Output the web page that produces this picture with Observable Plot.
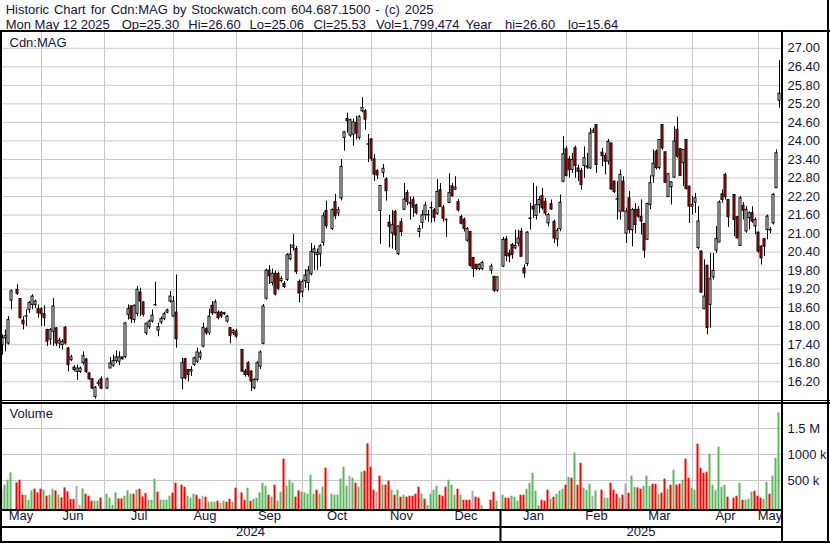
<!DOCTYPE html>
<html><head><meta charset="utf-8">
<script src="https://cdn.jsdelivr.net/npm/d3@7"></script>
<script src="https://cdn.jsdelivr.net/npm/@observablehq/plot@0.6"></script>
<style>
body{margin:0;background:#fff;}
#wrap{position:relative;width:830px;height:543px;overflow:hidden;background:#fff;font-family:"Liberation Sans",Arial,sans-serif;color:#14143c;}
.tk{position:absolute;font-size:13px;white-space:pre;line-height:15px;height:15px;}
.r1{top:1.8px;}
.r2{top:16.6px;}
.ln{position:absolute;background:#000;}
#price,#vol{position:absolute;left:0;}
</style></head>
<body><div id="wrap">
<div class="tk r1" style="left:5.7px;word-spacing:1.3px">Historic Chart for Cdn:MAG by Stockwatch.com 604.687.1500 - (c) 2025</div>
<div class="tk r2" style="left:5.7px">Mon May 12 2025</div>
<div class="tk r2" style="left:121.7px">Op=25.30</div>
<div class="tk r2" style="left:188.3px">Hi=26.60</div>
<div class="tk r2" style="left:249.5px">Lo=25.06</div>
<div class="tk r2" style="left:313.5px">Cl=25.53</div>
<div class="tk r2" style="left:376px">Vol=1,799,474</div>
<div class="tk r2" style="left:465.5px">Year</div>
<div class="tk r2" style="left:505px">hi=26.60</div>
<div class="tk r2" style="left:568px">lo=15.64</div>
<div id="price" style="top:31px"></div>
<div id="vol" style="top:401px"></div>
<div class="ln" style="left:0;top:30px;width:830px;height:2px"></div>
<div class="ln" style="left:0;top:30px;width:2px;height:513px"></div>
<div class="ln" style="left:827px;top:0;width:2px;height:543px"></div>
<div class="ln" style="left:0;top:541px;width:830px;height:2px"></div>
<div class="ln" style="left:781px;top:30px;width:2px;height:513px"></div>
<div class="ln" style="left:0;top:400px;width:830px;height:1px"></div>
<div class="ln" style="left:0;top:402px;width:830px;height:2px"></div>
<div class="ln" style="left:0;top:509px;width:783px;height:2px"></div>
<div class="ln" style="left:0;top:526px;width:783px;height:2px"></div>
</div>
<script>
// ---- data: one slot per weekday from 2024-05-13 to 2025-05-12 (null = market holiday) ----
const open = [
16.75,17.39,17.61,17.44,18.83,null,19.18,18.88,18.18,18.31,
18.53,18.69,18.69,18.55,18.55,18.39,17.88,17.57,17.82,17.93,
17.44,17.39,17.95,17.28,16.90,16.66,16.52,16.52,16.81,16.92,
16.47,16.28,15.71,16.14,16.28,null,15.98,16.63,16.72,16.87,
16.85,16.99,17.00,18.37,18.64,18.20,18.40,19.09,18.77,17.77,
17.97,18.15,18.68,17.86,18.12,18.23,18.44,18.80,18.31,18.44,
null,16.31,16.93,16.58,16.53,16.75,16.85,16.99,17.34,17.90,
17.77,18.66,18.42,18.44,18.44,18.42,18.15,17.94,17.77,17.83,
null,17.23,16.53,16.80,16.53,15.99,16.26,16.69,17.43,18.89,
19.80,19.40,19.70,19.69,19.46,19.37,19.50,20.17,20.54,20.50,
19.44,19.10,19.46,19.40,19.68,20.38,20.30,20.32,20.70,21.73,
null,21.15,22.02,21.65,22.14,24.10,24.71,24.17,24.20,24.58,
24.10,24.96,24.96,23.88,24.05,23.40,23.02,21.73,22.97,22.75,
21.35,21.00,21.70,20.34,21.37,21.77,22.31,21.97,22.08,21.91,
21.05,21.34,21.59,21.59,21.82,21.75,21.64,22.40,21.84,21.43,
21.99,22.53,22.42,22.02,21.53,21.45,20.77,21.05,20.21,19.99,
19.85,19.85,null,null,19.80,19.60,19.15,null,19.93,20.81,
20.35,20.63,20.52,20.68,21.06,19.87,20.01,21.47,21.87,21.57,
21.92,22.22,22.03,21.33,21.95,21.38,20.81,21.14,22.68,23.73,
23.40,23.06,23.76,23.11,23.02,23.19,23.14,23.11,24.27,24.51,
null,23.62,23.51,23.33,23.92,22.68,22.11,21.71,22.68,21.00,
22.14,21.11,21.76,21.77,21.55,21.31,20.80,21.93,22.85,23.65,
23.12,24.51,23.63,22.18,22.50,22.81,24.36,23.73,23.28,24.03,
22.52,21.87,22.00,20.53,20.42,18.55,19.96,18.69,19.58,20.45,
20.71,22.27,22.90,22.09,null,22.25,21.53,20.60,21.90,21.07,
21.50,21.66,21.23,21.03,20.58,20.82,21.12,21.10,21.33,22.47,
25.30];
const high = [
17.88,17.72,17.88,18.31,19.18,null,19.34,18.90,18.31,18.53,
18.80,19.02,18.85,18.69,18.60,18.66,17.90,17.92,18.90,17.95,
17.61,17.57,17.99,17.30,17.06,16.72,16.74,16.68,17.17,16.96,
16.50,16.30,16.05,16.25,16.36,null,16.32,16.99,17.06,17.20,
17.17,17.00,18.12,18.69,18.66,18.69,19.29,19.23,18.80,18.10,
18.20,18.53,19.42,18.10,18.30,18.45,18.55,19.12,18.96,19.66,
null,16.96,16.96,16.60,16.69,17.00,17.29,17.20,18.10,17.95,
18.55,18.80,18.85,18.50,18.48,18.45,18.35,17.95,17.90,17.90,
null,17.25,16.60,16.85,16.55,16.30,16.85,17.20,18.70,19.85,
19.96,19.85,19.78,19.75,19.60,19.45,20.35,20.65,20.97,20.58,
19.50,19.50,19.83,19.94,20.68,20.60,20.50,20.65,21.67,22.05,
null,21.80,22.27,21.85,23.40,24.31,24.90,24.71,24.71,24.80,
24.82,25.40,25.02,24.21,24.05,23.56,23.07,22.54,23.24,22.81,
21.59,21.75,21.75,21.26,21.48,22.62,22.40,22.18,22.18,21.95,
21.26,21.75,22.02,21.75,22.02,21.81,22.75,22.62,21.91,21.48,
22.93,22.62,22.84,22.10,21.60,21.50,21.20,21.05,20.23,20.00,
20.02,20.10,null,null,20.01,19.60,19.60,null,20.88,20.90,
20.46,20.68,21.11,21.11,21.17,19.98,21.06,21.98,22.62,22.52,
22.20,22.46,22.14,21.65,22.09,21.44,21.17,22.25,24.14,23.81,
23.50,23.60,23.83,23.22,23.11,23.81,23.60,24.41,24.41,24.51,
null,23.76,23.60,24.05,23.92,22.70,22.68,23.06,22.84,21.82,
22.36,21.82,21.98,21.87,22.09,21.31,21.98,22.87,23.71,23.71,
24.03,24.51,23.65,22.95,22.68,24.46,24.77,23.75,23.71,24.03,
22.52,22.20,22.30,21.87,20.42,20.15,19.96,20.36,20.36,21.23,
22.06,22.41,22.95,22.09,null,22.25,21.55,22.20,22.00,21.87,
21.70,21.87,21.50,21.05,20.60,20.85,21.60,21.20,22.30,23.71,
26.60];
const low = [
16.63,17.06,17.17,17.39,18.53,null,19.00,18.23,17.88,17.99,
18.42,18.53,18.58,18.26,17.99,17.99,17.34,17.39,17.34,17.34,
17.28,17.23,17.39,16.52,16.85,16.52,16.25,16.47,16.74,16.47,
16.25,15.95,15.64,16.05,15.95,null,15.95,16.63,16.67,16.79,
16.72,16.90,16.95,18.20,18.09,18.10,18.30,18.31,18.30,17.70,
17.90,18.10,18.64,17.66,18.05,18.18,18.40,18.75,18.29,17.29,
null,15.94,16.26,16.20,16.37,16.70,16.80,16.90,17.30,17.70,
17.70,18.35,18.40,18.20,18.25,18.35,18.10,17.43,17.70,17.60,
null,16.50,16.35,16.35,15.88,15.94,16.20,16.60,17.40,18.85,
19.35,19.30,18.98,19.15,19.40,19.22,19.45,20.12,20.43,19.67,
18.76,18.93,19.22,19.15,19.63,19.81,19.81,19.92,20.59,21.15,
null,21.10,21.45,21.55,22.06,23.67,24.25,24.10,23.83,24.03,
24.03,24.91,24.35,23.30,23.34,22.69,22.75,20.65,22.81,22.05,
20.54,20.50,20.45,20.29,20.90,21.75,21.90,21.43,21.53,21.60,
20.86,21.15,21.43,21.37,21.34,21.37,21.59,21.86,21.37,20.88,
21.97,22.18,22.40,21.70,21.28,21.05,20.72,19.91,19.58,19.80,
19.80,19.80,null,null,19.67,19.09,19.10,null,19.90,20.09,
20.06,20.17,20.48,20.57,20.25,19.55,19.93,21.11,21.49,21.44,
21.65,21.76,21.57,21.22,21.76,20.68,20.57,21.06,22.65,22.84,
22.80,22.95,22.79,22.68,22.41,22.79,23.08,23.08,24.24,22.95,
null,23.17,22.90,23.22,22.41,22.30,21.44,21.44,21.71,20.68,
21.00,20.57,21.00,21.50,20.96,20.20,20.80,21.77,22.63,23.06,
23.06,23.70,22.63,22.17,21.93,22.79,23.44,22.85,22.52,22.41,
21.33,21.60,21.65,20.47,19.07,18.55,17.72,17.94,19.50,20.36,
20.71,21.98,22.09,21.20,null,20.90,20.82,20.58,21.44,21.01,
21.12,21.33,20.96,20.36,19.98,20.26,20.80,21.00,21.28,22.47,
25.06];
const close = [
17.70,17.61,17.68,18.20,19.13,null,19.05,18.26,18.06,18.32,
18.75,18.96,18.80,18.42,18.39,18.26,17.50,17.88,18.64,17.44,
17.53,17.50,17.44,16.74,16.99,16.58,16.63,16.63,17.03,16.52,
16.28,15.98,16.01,16.15,15.98,null,16.28,16.79,16.87,16.99,
16.99,16.93,18.09,18.55,18.23,18.66,19.18,18.80,18.37,18.08,
18.15,18.34,18.69,17.97,18.23,18.39,18.51,18.96,18.80,17.58,
null,16.80,16.31,16.42,16.58,16.96,17.15,17.12,17.94,17.77,
18.31,18.42,18.77,18.26,18.31,18.39,18.31,17.69,17.85,17.66,
null,16.53,16.42,16.42,16.21,16.26,16.80,17.15,18.64,19.80,
19.62,19.70,19.03,19.21,19.53,19.27,20.30,20.32,20.61,19.75,
19.06,19.43,19.64,19.80,20.40,20.49,20.37,20.59,21.56,21.24,
null,21.76,21.56,21.76,23.16,24.28,24.64,24.67,24.60,24.24,
24.77,25.07,24.69,23.89,23.42,22.91,22.88,22.54,23.10,22.37,
21.22,21.27,20.94,21.23,21.05,22.10,22.02,21.99,21.84,21.66,
21.15,21.59,21.91,21.60,21.83,21.51,22.35,21.86,21.48,21.44,
22.31,22.21,22.49,21.75,21.32,21.15,21.15,19.96,19.85,19.85,
19.99,20.05,null,null,19.93,19.15,19.58,null,20.79,20.27,
20.26,20.31,20.60,20.84,20.25,19.71,21.03,21.49,21.78,21.92,
22.09,21.82,21.65,21.60,21.78,20.84,21.09,22.00,23.57,22.86,
23.06,23.38,23.19,23.00,22.57,23.44,23.17,24.24,24.33,23.22,
null,23.51,23.33,23.97,22.43,22.35,22.10,22.90,21.71,21.71,
21.11,21.76,21.28,21.55,21.39,20.45,21.96,22.63,23.26,23.12,
24.03,23.76,22.65,22.92,22.66,23.98,23.49,22.87,23.71,22.44,
21.87,21.93,22.14,21.39,19.09,18.96,17.94,19.52,19.79,20.82,
22.01,22.09,22.18,21.53,null,21.44,20.85,22.14,21.74,21.77,
21.66,21.39,21.44,20.42,20.20,20.58,21.55,21.12,22.25,23.60,
25.53];
// volume in thousands of shares
const volumeK = [
300,326,410,506,647,null,454,506,217,217,
121,301,333,262,333,313,198,217,333,301,
217,166,358,281,134,134,390,25,339,237,
198,102,102,102,160,null,237,160,25,262,
147,147,198,301,237,237,313,333,185,249,
121,121,525,275,121,121,121,198,256,448,
null,410,371,198,160,237,217,140,198,179,
83,83,83,102,63,102,83,140,83,352,
null,262,121,352,102,140,160,262,448,390,
217,179,410,102,275,910,390,506,448,179,
301,275,262,237,602,237,313,237,371,737,
null,237,217,217,525,756,390,583,544,448,
371,660,679,1204,756,313,275,583,410,410,
487,313,217,313,179,217,179,198,198,237,
371,237,140,15,237,313,390,217,198,371,
506,410,217,333,217,121,121,121,294,179,
160,15,null,null,121,275,102,null,217,160,
160,198,179,102,217,217,333,448,640,294,
15,121,102,313,140,179,237,294,333,410,
563,544,1025,410,833,352,313,429,198,301,
null,313,160,160,448,313,237,160,217,429,
256,583,371,358,333,390,583,390,429,429,
237,256,525,333,410,698,410,429,506,910,
544,352,313,1198,737,640,660,1006,410,301,
1140,371,410,179,null,160,198,448,121,121,
140,275,294,198,160,140,467,237,583,929,
1799];
// change versus previous close: u = up, d = down, n = unchanged
const direction = [
"u","n","u","u","u",null,"d","d","d","u",
"u","u","d","d","d","u","d","u","u","d",
"u","d","d","d","d","d","n","n","u","d",
"d","d","u","u","d",null,"u","u","u","u",
"d","d","u","u","u","d","u","d","d","d",
"u","u","u","d","u","u","u","u","d","d",
null,"d","d","u","u","u","d","d","n","d",
"u","u","u","d","n","u","d","d","u","d",
null,"d","d","u","d","u","u","u","u","u",
"d","u","d","u","u","d","u","u","u","d",
"d","u","u","u","u","u","d","u","u","d",
null,"u","u","u","u","u","u","n","u","d",
"u","u","d","d","d","d","n","d","u","d",
"d","u","d","u","d","u","d","d","d","d",
"d","u","d","u","u","u","u","d","d","d",
"u","u","u","d","u","d","d","d","n","d",
"d","u",null,null,"d","d","u",null,"u","d",
"d","u","u","u","d","d","u","u","u","u",
"u","d","d","d","u","d","u","u","u","d",
"u","d","u","d","d","u","u","u","n","u",
null,"d","u","u","d","d","d","u","d","n",
"d","u","u","d","d","u","u","u","d","d",
"u","d","d","u","d","u","d","d","u","d",
"d","u","u","d","d","d","d","u","u","u",
"u","u","u","d",null,"d","d","u","d","u",
"u","u","d","d","d","u","u","d","u","u",
"u"];
const monthNames = ["May","Jun","Jul","Aug","Sep","Oct","Nov","Dec","Jan","Feb","Mar","Apr","May"];
const yearNames = ["2024","2025"];
const priceTicks = [16.2,16.8,17.4,18.0,18.6,19.2,19.8,20.4,21.0,21.6,22.2,22.8,23.4,24.0,24.6,25.2,25.8,26.4,27.0];
const volTicks = [500,1000,1500];
const volTickLabels = ["500 k","1000 k","1.5 M"];

// weekday calendar (one slot per weekday)
const days = [];
for (let t = Date.UTC(2024,4,13); t <= Date.UTC(2025,4,12); t += 864e5) {
  const d = new Date(t), w = d.getUTCDay();
  if (w > 0 && w < 6) days.push(d);
}
const bars = days.map((d,i)=>({i, o:open[i], h:high[i], l:low[i], c:close[i], v:volumeK[i], dir:direction[i]}))
  .filter(b => b.o != null);
// month grid: last weekday on or before the 1st of each month
const monthStarts = [];
for (let k = 1; k <= 12; k++) {
  const first = Date.UTC(2024, 4 + k, 1);
  let idx = 0; days.forEach((d,i)=>{ if (+d <= first) idx = i; });
  monthStarts.push(idx);
}
const xDomain = [1/3, 782/3];
const bounds = [xDomain[0], ...monthStarts, xDomain[1]];
const monthLabels = monthNames.map((t,k)=>({t, x:(bounds[k]+bounds[k+1])/2}));
const janSlot = monthStarts[7];
const yearLabels = [{t:yearNames[0], x:(xDomain[0]+janSlot)/2},{t:yearNames[1], x:(janSlot+xDomain[1])/2}];

const font = '"Liberation Sans",Arial,sans-serif';
const common = {width:830, marginLeft:0, marginRight:49, marginTop:0, marginBottom:0,
  style:{fontFamily:font, fontSize:"13px", color:"#14143c", background:"transparent"}};

const priceChart = Plot.plot({
  ...common, height:370,
  x:{domain:xDomain, range:[0,781], axis:null},
  y:{domain:[16.2,27], range:[350.3,16.8], axis:null},
  marks:[
    Plot.ruleY(priceTicks,{stroke:"#c8c8c8"}),
    Plot.ruleX(monthStarts,{stroke:"#c8c8c8"}),
    Plot.ruleX(bars,{x:"i", y1:"l", y2:"h", stroke:"#000"}),
    Plot.rect(bars,{x1:d=>d.i-1/3, x2:d=>d.i+1/3, y1:"o", y2:"c",
      fill:d=>d.c>=d.o?"#ffffff":"#ff0000", stroke:"#000", strokeWidth:1}),
    Plot.text(priceTicks,{y:d=>d, text:d=>d.toFixed(2), frameAnchor:"right", textAnchor:"start", dx:6, fontSize:13}),
    Plot.text(["Cdn:MAG"],{frameAnchor:"top-left", text:d=>d, dx:9, dy:6, fontSize:13})
  ]
});
document.getElementById("price").appendChild(priceChart);

const volColor = {u:"#5cb85c", d:"#ff0000", n:"#aaaaaa"};
const volChart = Plot.plot({
  ...common, height:142,
  x:{domain:xDomain, range:[0,781], axis:null},
  y:{domain:[0,1500], range:[105,27], axis:null},
  marks:[
    Plot.ruleY(volTicks,{stroke:"#c8c8c8"}),
    Plot.ruleX(monthStarts,{y1:-60, y2:2100, stroke:"#c8c8c8"}),
    Plot.rect(bars.filter(b=>b.v!=null),{x1:d=>d.i-1/2, x2:d=>d.i+1/6, y1:-60, y2:"v", fill:d=>volColor[d.dir]}),
    Plot.text(volTicks,{y:d=>d, text:(d,i)=>volTickLabels[i], frameAnchor:"right", textAnchor:"start", dx:6, fontSize:13}),
    Plot.text(["Volume"],{frameAnchor:"top-left", text:d=>d, dx:9, dy:7, fontSize:13}),
    Plot.text(monthLabels,{x:"x", text:"t", frameAnchor:"bottom", dy:-24, fontSize:13}),
    Plot.text(yearLabels,{x:"x", text:"t", frameAnchor:"bottom", dy:-8, fontSize:13}),
    Plot.ruleX([janSlot],{y1:-60, y2:-900, stroke:"#000", strokeWidth:2})
  ]
});
document.getElementById("vol").appendChild(volChart);
</script>
</body></html>
